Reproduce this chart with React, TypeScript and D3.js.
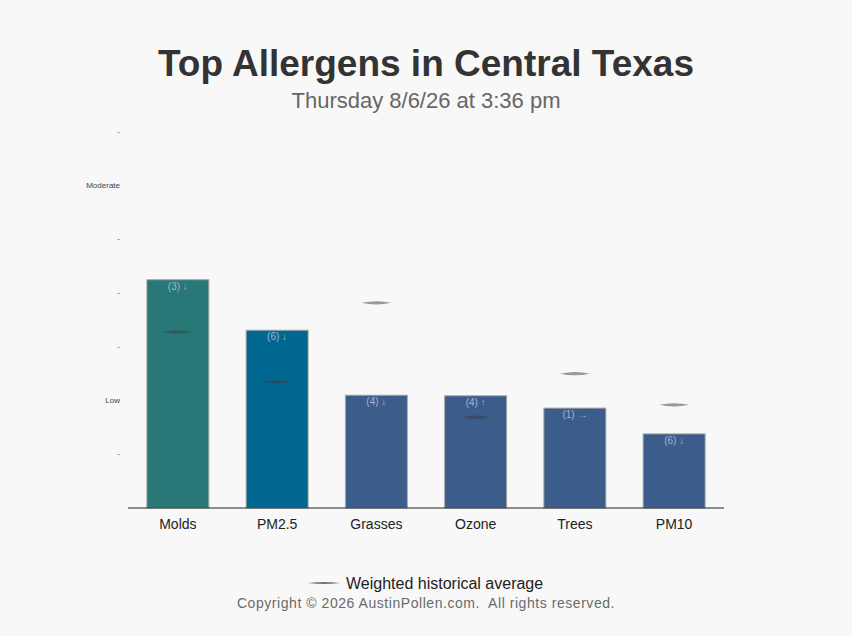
import React, { useEffect, useRef } from 'react';
import * as d3 from 'd3';

const categories = ['Molds', 'PM2.5', 'Grasses', 'Ozone', 'Trees', 'PM10'];
const levels = [4.25, 3.31, 2.1, 2.09, 1.86, 1.38];
const averages = [3.28, 2.35, 3.82, 1.69, 2.5, 1.92];
const valueLabels = ['(3) ↓', '(6) ↓', '(4) ↓', '(4) ↑', '(1) →', '(6) ↓'];
const barColors = ['#287878', '#006890', '#3c5c8c', '#3c5c8c', '#3c5c8c', '#3c5c8c'];
const tickValues = [0, 1, 2, 3, 4, 5, 6, 7];
const tickLabels = ['', '-', 'Low', '-', '-', '-', 'Moderate', '-'];

const W = 852;
const H = 636;
const font = '"Liberation Sans", Arial, sans-serif';

export default function App() {
  const svgRef = useRef<SVGSVGElement>(null);

  useEffect(() => {
    document.body.style.margin = '0';
    const svg = d3.select(svgRef.current);
    svg.selectAll('*').remove();

    svg.append('rect').attr('width', W).attr('height', H).attr('fill', '#f8f8f8');

    const margin = { top: 132, right: 128, bottom: 128, left: 128 };
    const innerW = W - margin.left - margin.right;
    const innerH = H - margin.top - margin.bottom;

    const x = d3.scaleBand<string>()
      .domain(categories)
      .range([0, innerW])
      .paddingInner(0.375)
      .paddingOuter(0.19);

    const y = d3.scaleLinear().domain([0, 7]).range([innerH, 0]);

    // title
    svg.append('text')
      .attr('x', W / 2).attr('y', 76)
      .attr('text-anchor', 'middle')
      .attr('font-family', font).attr('font-size', 37).attr('font-weight', 'bold')
      .attr('fill', '#333')
      .text('Top Allergens in Central Texas');

    svg.append('text')
      .attr('x', W / 2).attr('y', 108)
      .attr('text-anchor', 'middle')
      .attr('font-family', font).attr('font-size', 22)
      .attr('fill', '#666')
      .text('Thursday 8/6/26 at 3:36 pm');

    const g = svg.append('g').attr('transform', `translate(${margin.left},${margin.top})`);

    // y axis labels
    g.selectAll('.ytick')
      .data(tickValues.filter(v => tickLabels[v] !== ''))
      .enter().append('text')
      .attr('class', 'ytick')
      .attr('x', -8)
      .attr('y', d => y(d) + 2)
      .attr('text-anchor', 'end')
      .attr('font-family', font).attr('font-size', 8)
      .attr('fill', '#444')
      .text(d => tickLabels[d]);

    // bars
    g.selectAll('.bar')
      .data(categories)
      .enter().append('rect')
      .attr('class', 'bar')
      .attr('x', d => x(d)!)
      .attr('y', (_d, i) => y(levels[i]))
      .attr('width', x.bandwidth())
      .attr('height', (_d, i) => innerH - y(levels[i]))
      .attr('fill', (_d, i) => barColors[i])
      .attr('stroke', '#aaa')
      .attr('stroke-width', 1);

    // labels inside bars
    g.selectAll('.vlabel')
      .data(categories)
      .enter().append('text')
      .attr('class', 'vlabel')
      .attr('x', d => x(d)! + x.bandwidth() / 2)
      .attr('y', (_d, i) => y(levels[i]) + 10)
      .attr('text-anchor', 'middle')
      .attr('font-family', font).attr('font-size', 10)
      .attr('fill', '#a3b6cc')
      .text((_d, i) => valueLabels[i]);

    // historical average markers (lens shape)
    const lens = (cx: number, cy: number) => {
      const hw = 15, hh = 1.6;
      return `M${cx - hw},${cy} Q${cx},${cy - hh * 2} ${cx + hw},${cy} Q${cx},${cy + hh * 2} ${cx - hw},${cy} Z`;
    };
    g.selectAll('.avg')
      .data(categories)
      .enter().append('path')
      .attr('class', 'avg')
      .attr('d', (d, i) => lens(x(d)! + x.bandwidth() / 2, y(averages[i])))
      .attr('fill', '#3a3a3a')
      .attr('opacity', 0.5);

    // x axis line
    g.append('line')
      .attr('x1', 0).attr('x2', innerW)
      .attr('y1', innerH).attr('y2', innerH)
      .attr('stroke', '#222').attr('stroke-width', 1);

    g.selectAll('.xlabel')
      .data(categories)
      .enter().append('text')
      .attr('class', 'xlabel')
      .attr('x', d => x(d)! + x.bandwidth() / 2)
      .attr('y', innerH + 21)
      .attr('text-anchor', 'middle')
      .attr('font-family', font).attr('font-size', 14)
      .attr('fill', '#222')
      .text(d => d);

    // legend
    svg.append('path')
      .attr('d', lens(324, 583))
      .attr('transform', 'translate(324,583) scale(1.07,0.6) translate(-324,-583)')
      .attr('fill', '#3a3a3a').attr('opacity', 0.7);

    svg.append('text')
      .attr('x', 346).attr('y', 589)
      .attr('font-family', font).attr('font-size', 16)
      .attr('fill', '#222')
      .text('Weighted historical average');

    svg.append('text')
      .attr('x', W / 2).attr('y', 608)
      .attr('text-anchor', 'middle')
      .attr('font-family', font).attr('font-size', 14)
      .attr('letter-spacing', 0.55)
      .attr('fill', '#6a6a6a')
      .attr('xml:space', 'preserve')
      .style('white-space', 'pre')
      .text('Copyright © 2026 AustinPollen.com.  All rights reserved.');
  }, []);

  return <svg ref={svgRef} width={W} height={H} style={{ display: 'block' }} />;
}
